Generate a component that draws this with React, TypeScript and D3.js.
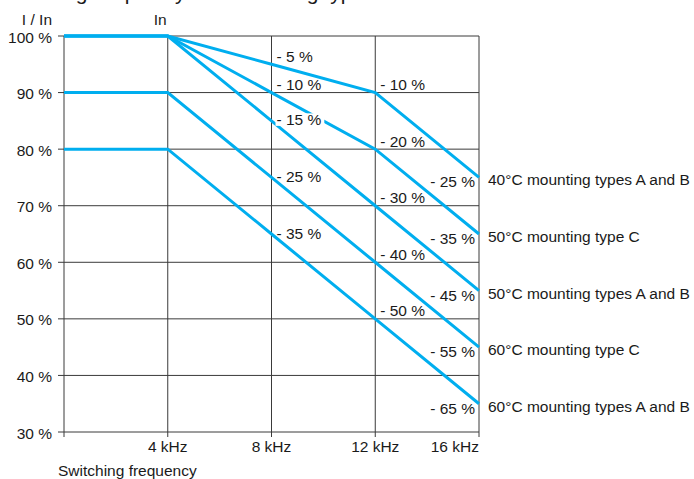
import React from "react";
import * as d3 from "d3";

const W = 694;
const H = 479;

const frequencies = [0, 4, 8, 12, 16];
const xTickValues = [4, 8, 12, 16];
const xTickLabels = ["4 kHz", "8 kHz", "12 kHz", "16 kHz"];
const yTickValues = [30, 40, 50, 60, 70, 80, 90, 100];
const yTickLabels = ["30 %", "40 %", "50 %", "60 %", "70 %", "80 %", "90 %", "100 %"];

const seriesNames = [
  "40°C mounting types A and B",
  "50°C mounting type C",
  "50°C mounting types A and B",
  "60°C mounting type C",
  "60°C mounting types A and B",
];
const s40AB = [100, 100, 95, 90, 75];
const s50C = [100, 100, 90, 80, 65];
const s50AB = [100, 100, 85, 70, 55];
const s60C = [90, 90, 75, 60, 45];
const s60AB = [80, 80, 65, 50, 35];
const seriesValues = [s40AB, s50C, s50AB, s60C, s60AB];

const labelFreqs = [8, 12, 16];

const titleText = "switching frequency and mounting type";
const yAxisTitle = "I / In";
const inLabel = "In";
const xAxisTitle = "Switching frequency";

const BLUE = "#00AEEF";
const GRID = "#3a3a3a";
const TEXT = "#1a1a1a";
const FONT = "'Liberation Sans', Arial, Helvetica, sans-serif";
const FS = 15.5;

export default function App() {
  const x = d3.scaleLinear().domain([0, 16]).range([64, 479]);
  const y = d3.scaleLinear().domain([30, 100]).range([432, 36]);
  const line = d3
    .line<number>()
    .x((_, i) => x(frequencies[i]))
    .y((d) => y(d));

  const x0 = x(0);
  const x1 = x(16);
  const yTop = y(100);
  const yBot = y(30);

  const charW: Record<string, number> = {
    "-": 0.333, " ": 0.278, "%": 0.889,
  };
  const textWidth = (s: string) =>
    s.split("").reduce((a, c) => a + (charW[c] ?? 0.556), 0) * FS;

  const valueAt = (vals: number[], f: number) => {
    for (let i = 0; i < frequencies.length - 1; i++) {
      if (f >= frequencies[i] && f <= frequencies[i + 1]) {
        const t = (f - frequencies[i]) / (frequencies[i + 1] - frequencies[i]);
        return vals[i] + t * (vals[i + 1] - vals[i]);
      }
    }
    return vals[vals.length - 1];
  };

  type Lbl = { text: string; x: number; y: number; anchor: string; knock: boolean; w: number };
  const labels: Lbl[] = [];
  seriesValues.forEach((vals, si) => {
    labelFreqs.forEach((f) => {
      const v = valueAt(vals, f);
      const text = `- ${Math.round(100 - v)} %`;
      const w = textWidth(text);
      const px = x(f);
      const py = y(v);
      let lx: number, ly: number, anchor: string;
      if (f === 16) {
        lx = px - 4;
        ly = py + 10;
        anchor = "end";
      } else if (f === 8) {
        const drop = valueAt(vals, 4) - v;
        lx = px + 5;
        ly = drop <= 10 ? py - 2.5 : py + 4.5;
        anchor = "start";
      } else {
        lx = px + 5;
        ly = py - 2.5;
        anchor = "start";
      }
      let knock = false;
      if (anchor === "start") {
        for (let k = 0; k <= 10; k++) {
          const sx = lx + w * (0.3 + 0.07 * k);
          const fS = x.invert(sx);
          seriesValues.forEach((other, oi) => {
            if (oi === si) return;
            const oy = y(valueAt(other, fS));
            if (oy > ly - 11 && oy < ly) knock = true;
          });
        }
      }
      labels.push({ text, x: lx, y: ly, anchor, knock, w });
    });
  });

  return (
    <svg
      width={W}
      height={H}
      style={{ position: "absolute", left: 0, top: 0, background: "#fff" }}
      fontFamily={FONT}
    >
      <rect x={0} y={0} width={W} height={H} fill="#fff" />
      {/* cut-off title line at top */}
      <text x={1} y={-0.5} fontSize={21} fill={TEXT}>
        {titleText}
      </text>

      {yTickValues.map((v) => (
        <line key={"h" + v} x1={x0 - 6} x2={x1} y1={y(v)} y2={y(v)} stroke={GRID} strokeWidth={1} />
      ))}
      <line x1={x0} x2={x0} y1={yTop} y2={yBot + 5} stroke={GRID} strokeWidth={1} />
      {xTickValues.map((f) => (
        <line key={"v" + f} x1={x(f)} x2={x(f)} y1={yTop} y2={yBot + 5} stroke={GRID} strokeWidth={1} />
      ))}

      {yTickValues.map((v, i) => (
        <text key={"yl" + v} x={52} y={y(v) + 6.5} textAnchor="end" fontSize={FS} fill={TEXT}>
          {yTickLabels[i]}
        </text>
      ))}
      {xTickValues.map((f, i) => (
        <text
          key={"xl" + f}
          x={x(f)}
          y={yBot + 20}
          textAnchor={i === xTickValues.length - 1 ? "end" : "middle"}
          fontSize={FS}
          fill={TEXT}
        >
          {xTickLabels[i]}
        </text>
      ))}

      <text x={52} y={25} textAnchor="end" fontSize={FS} fill={TEXT}>
        {yAxisTitle}
      </text>
      <text x={x(4) - 1} y={25} textAnchor="end" fontSize={FS} fill={TEXT}>
        {inLabel}
      </text>
      <text x={58} y={476} fontSize={FS} fill={TEXT}>
        {xAxisTitle}
      </text>

      {seriesValues.map((vals, i) => (
        <path
          key={"s" + i}
          d={line(vals) || ""}
          fill="none"
          stroke={BLUE}
          strokeWidth={3}
          strokeLinejoin="miter"
        />
      ))}

      {labels
        .filter((l) => l.knock)
        .map((l, i) => (
          <rect key={"k" + i} x={l.x - 1} y={l.y - 12} width={l.w + 4} height={12.5} fill="#fff" />
        ))}

      {labels.map((l, i) => (
        <text key={"l" + i} x={l.x} y={l.y} textAnchor={l.anchor as any} fontSize={FS} fill={TEXT}>
          {l.text}
        </text>
      ))}

      {seriesValues.map((vals, i) => (
        <text
          key={"n" + i}
          x={x(16) + 9}
          y={y(vals[vals.length - 1]) + 8}
          fontSize={FS}
          fill={TEXT}
        >
          {seriesNames[i]}
        </text>
      ))}
    </svg>
  );
}
